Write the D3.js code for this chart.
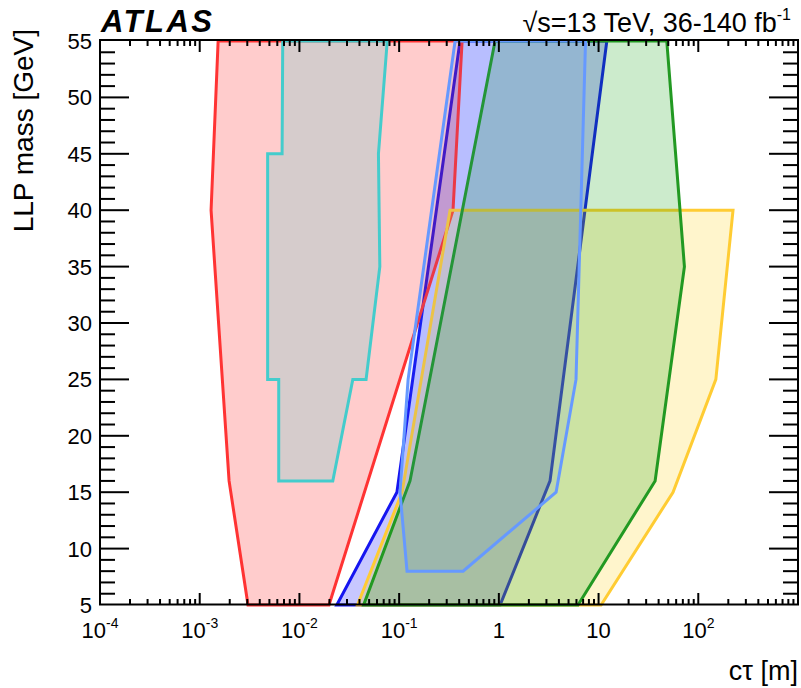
<!DOCTYPE html>
<html>
<head>
<meta charset="utf-8">
<script src="https://cdn.jsdelivr.net/npm/d3@7"></script>
<style>
  body { margin: 0; background: #fff; }
  svg { display: block; }
  text { font-family: "Liberation Sans", Arial, Helvetica, sans-serif; fill: #000; }
</style>
</head>
<body>
<svg id="chart" width="801" height="688"></svg>
<script>
// Excluded regions: vertices as (cτ [m], LLP mass [GeV])
const blueCtau = [0.0237, 0.095, 0.408, 12.1, 3.26, 1.03];
const blueMass = [5, 15, 55, 55, 16, 5];

const redCtau = [0.00153, 0.0013, 0.00197, 0.00305, 0.0198, 0.347, 0.428];
const redMass = [55, 40, 16, 5, 5, 40, 55];

const cyanCtau = [0.0068, 0.0067, 0.0048, 0.0048, 0.0062, 0.0062, 0.0216, 0.0343, 0.0466, 0.064, 0.062, 0.076];
const cyanMass = [55, 45, 45, 25, 25, 16, 16, 25, 25, 35, 45, 55];

const yellowCtau = [0.0382, 0.107, 0.324, 223, 150, 55.8, 10.6];
const yellowMass = [5, 15, 40, 40, 25, 15, 5];

const greenCtau = [0.044, 0.1285, 0.916, 48.3, 72.6, 36.9, 6.22];
const greenMass = [5, 16, 55, 55, 35, 16, 5];

const lightBlueCtau = [0.364, 0.123, 0.102, 0.12, 0.438, 3.75, 5.94, 7.4];
const lightBlueMass = [55, 25, 15, 8, 8, 15, 25, 55];

const xTickExponents = [-4, -3, -2, -1, 0, 1, 2];
const yTickValues = [5, 10, 15, 20, 25, 30, 35, 40, 45, 50, 55];

const regions = [
  { ctau: blueCtau,      mass: blueMass,      fill: "rgba(0,0,255,0.22)",     stroke: "#1515f0" },
  { ctau: redCtau,       mass: redMass,       fill: "rgba(255,0,0,0.2)",      stroke: "#ff3333" },
  { ctau: cyanCtau,      mass: cyanMass,      fill: "rgba(120,205,205,0.3)",  stroke: "#44cccc" },
  { ctau: yellowCtau,    mass: yellowMass,    fill: "rgba(255,204,0,0.2)",    stroke: "#ffcc33" },
  { ctau: greenCtau,     mass: greenMass,     fill: "rgba(0,153,0,0.2)",      stroke: "#229922" },
  { ctau: lightBlueCtau, mass: lightBlueMass, fill: "rgba(60,120,255,0.1)",   stroke: "#6699ff" }
];

const svg = d3.select("#chart");
const plotLeft = 100, plotRight = 798, plotTop = 41, plotBottom = 605;

const x = d3.scaleLog().domain([1e-4, 1e3]).range([plotLeft, plotRight]);
const y = d3.scaleLinear().domain([5, 55]).range([plotBottom, plotTop]);

const line = d3.line().x(d => x(d[0])).y(d => y(d[1]));

// filled contours
const g = svg.append("g");
regions.forEach(r => {
  const pts = r.ctau.map((c, i) => [c, r.mass[i]]);
  g.append("path")
    .attr("d", line(pts) + "Z")
    .attr("fill", r.fill)
    .attr("stroke", r.stroke)
    .attr("stroke-width", 3)
    .attr("stroke-linejoin", "miter");
});

// frame
svg.append("rect")
  .attr("x", plotLeft).attr("y", plotTop - 1)
  .attr("width", plotRight - plotLeft).attr("height", plotBottom - 0.5 - (plotTop - 1))
  .attr("fill", "none").attr("stroke", "#000").attr("stroke-width", 2);

// x ticks (log, both bottom and top)
const xt = svg.append("g").attr("stroke", "#000").attr("stroke-width", 2);
xTickExponents.forEach(k => {
  for (let j = 1; j <= 9; j++) {
    const v = j * Math.pow(10, k);
    if (v <= 1e-4 || v >= 1e3) continue;
    const px = x(v);
    const len = j === 1 ? 12 : 6;
    xt.append("line").attr("x1", px).attr("x2", px).attr("y1", plotBottom).attr("y2", plotBottom - len);
    xt.append("line").attr("x1", px).attr("x2", px).attr("y1", plotTop - 1).attr("y2", plotTop - 1 + len);
  }
});

// y ticks (both left and right)
const yt = svg.append("g").attr("stroke", "#000").attr("stroke-width", 2);
d3.range(6, 55).forEach(m => {
  const py = y(m);
  const len = m % 5 === 0 ? 29 : 15;
  yt.append("line").attr("x1", plotLeft).attr("x2", plotLeft + len).attr("y1", py).attr("y2", py);
  yt.append("line").attr("x1", plotRight).attr("x2", plotRight - len).attr("y1", py).attr("y2", py);
});

// y tick labels
svg.append("g").selectAll("text").data(yTickValues).join("text")
  .attr("x", plotLeft - 8).attr("y", d => y(d)).attr("dy", "0.36em")
  .attr("text-anchor", "end").attr("font-size", 22)
  .text(d => d);

// x tick labels
xTickExponents.forEach(k => {
  const t = svg.append("text")
    .attr("x", x(Math.pow(10, k))).attr("y", 638)
    .attr("text-anchor", "middle").attr("font-size", 22);
  if (k === 0) t.text("1");
  else if (k === 1) t.text("10");
  else {
    t.append("tspan").text("10");
    t.append("tspan").attr("dy", -10).attr("font-size", 14).text(k);
  }
});

// axis titles
svg.append("text")
  .attr("x", plotRight).attr("y", 680)
  .attr("text-anchor", "end").attr("font-size", 27)
  .text("cτ [m]");

svg.append("text")
  .attr("transform", "translate(33,29) rotate(-90)")
  .attr("text-anchor", "end").attr("font-size", 28)
  .text("LLP mass [GeV]");

// header labels
svg.append("text")
  .attr("x", 101).attr("y", 32)
  .attr("font-size", 31).attr("font-weight", "bold").attr("font-style", "italic")
  .attr("letter-spacing", 2.5)
  .text("ATLAS");

const e = svg.append("text")
  .attr("x", 791).attr("y", 32)
  .attr("text-anchor", "end").attr("font-size", 27);
e.append("tspan").text("√s=13 TeV, 36-140 fb");
e.append("tspan").attr("dy", -12).attr("font-size", 16).text("-1");
</script>
</body>
</html>
